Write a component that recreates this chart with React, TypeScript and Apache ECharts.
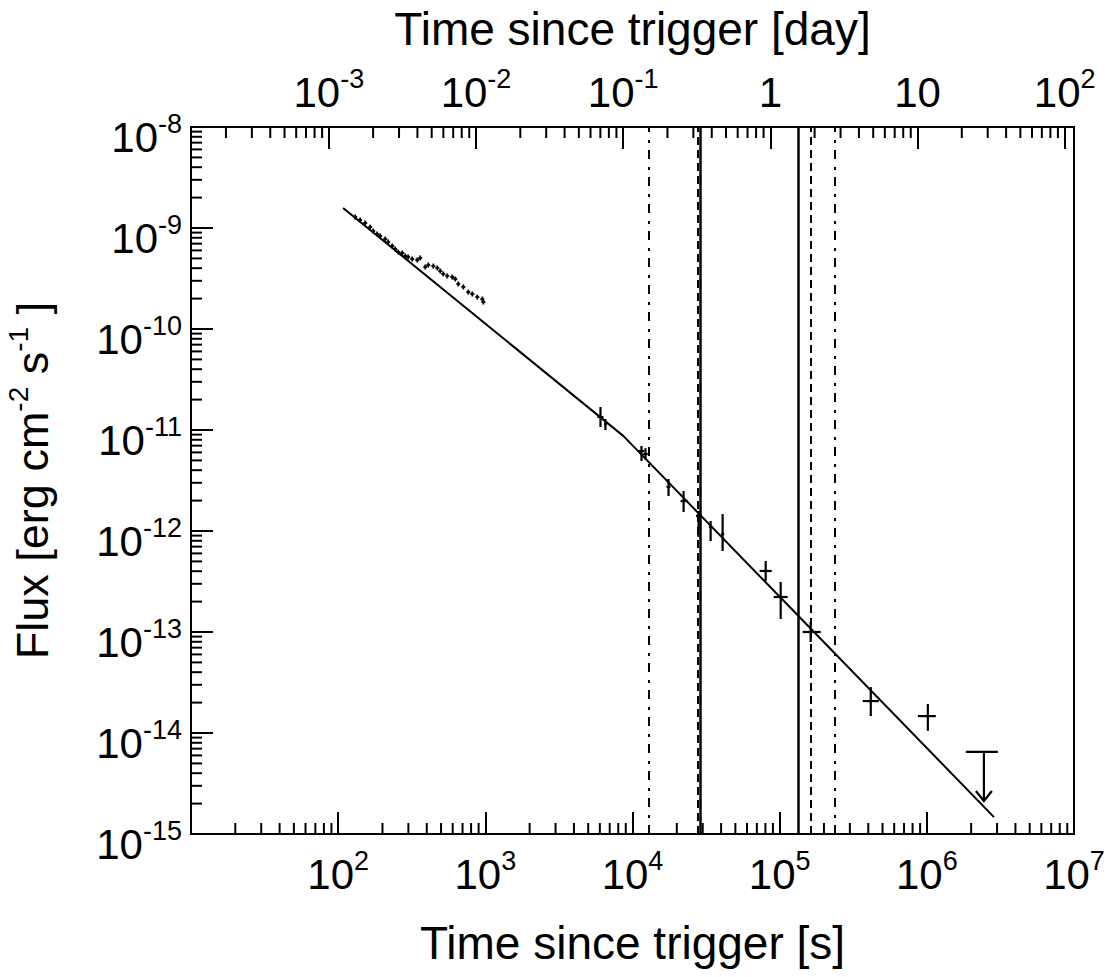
import React, { useEffect, useRef } from 'react';
import * as echarts from 'echarts';

const FONT = '"Liberation Sans", Arial, Helvetica, sans-serif';

// axis ranges
const T_MIN = 10;
const T_MAX = 1e7;
const F_MIN = 1e-15;
const F_MAX = 1e-8;
const SEC_PER_DAY = 86400;

// best-fit broken power law (time [s], flux)
const fitT = [108, 8690, 2.86e6];
const fitF = [1.58e-9, 8.7e-12, 1.47e-15];

// early dense light curve
const earlyT = [130.5, 141, 152.7, 165, 173, 184, 193, 208.8, 218.8, 233, 244, 256, 272.5, 285.6, 299, 318.7, 344.7, 361, 390.6, 409.6, 443, 471.6, 494, 517.8, 551, 596, 625, 655, 708.6, 766, 816, 882, 954, 969];
const earlyF = [1.285e-9, 1.2e-9, 1.12e-9, 1.02e-9, 9.34e-10, 8.72e-10, 8.33e-10, 7.78e-10, 7.27e-10, 6.64e-10, 6.19e-10, 5.78e-10, 5.65e-10, 5.28e-10, 5.16e-10, 4.93e-10, 4.82e-10, 5.05e-10, 4.11e-10, 4.3e-10, 4.2e-10, 4.02e-10, 3.75e-10, 3.51e-10, 3.35e-10, 3.27e-10, 3.13e-10, 2.79e-10, 2.61e-10, 2.32e-10, 2.22e-10, 2.07e-10, 1.98e-10, 1.85e-10];

// later points with error bars
const lateT = [6059, 6548, 11510, 12250, 17570, 22240, 28120, 33950, 40960, 80340, 101600, 162400, 416000, 1.016e6];
const lateF = [1.345e-11, 1.146e-11, 6.19e-12, 5.78e-12, 2.73e-12, 1.98e-12, 1.41e-12, 1.096e-12, 9.33e-13, 4.02e-13, 2.22e-13, 1.0e-13, 2.07e-14, 1.47e-14];
const lateFLo = [1.07e-11, 1.0e-11, 4.93e-12, 5.1e-12, 2.22e-12, 1.54e-12, 8.73e-13, 7.96e-13, 6.34e-13, 3.2e-13, 1.345e-13, 7.96e-14, 1.47e-14, 1.05e-14];
const lateFHi = [1.69e-11, 1.285e-11, 6.95e-12, 6.6e-12, 3.27e-12, 2.49e-12, 1.58e-12, 1.256e-12, 1.47e-12, 5.05e-13, 3.13e-13, 1.256e-13, 2.85e-14, 1.94e-14];
const lateTLo = [5781, 6400, 11000, 11800, 17000, 21220, 27000, 33000, 40000, 73090, 91030, 143300, 367000, 868500];
const lateTHi = [6350, 6700, 12000, 12700, 18100, 23670, 29300, 35000, 42000, 88300, 113300, 190100, 471300, 1.151e6];

// upper limit
const ulT = [2.442e6];
const ulF = [6.49e-15];
const ulTLo = [1.842e6];
const ulTHi = [3.041e6];
const ulTip = [2.12e-15];

// vertical marker lines (time [s])
const solidLines = [29010, 134700];
const dashedLines = [27690, 162500];
const dashDotLines = [12850, 236700];

// minor tick positions (2..9 x 10^n)
const minorBottom: number[] = [];
for (let e = 1; e < 7; e++) for (let m = 2; m <= 9; m++) minorBottom.push(m * Math.pow(10, e));
const minorLeft: number[] = [];
for (let e = -15; e < -8; e++) for (let m = 2; m <= 9; m++) minorLeft.push(m * Math.pow(10, e));
const minorTop: number[] = [];
for (let e = -4; e < 3; e++)
  for (let m = 2; m <= 9; m++) {
    const v = m * Math.pow(10, e);
    if (v > T_MIN / SEC_PER_DAY && v < T_MAX / SEC_PER_DAY) minorTop.push(v);
  }

const MAJOR_LEN = 22;
const MINOR_LEN = 11;
const BLACK = '#000';

const expOf = (v: number) => Math.round(Math.log10(v));

const labelRich = {
  b: { fontSize: 42, lineHeight: 54, fontFamily: FONT, color: BLACK },
  s: { fontSize: 27, lineHeight: 27, verticalAlign: 'top', fontFamily: FONT, color: BLACK },
};

export default function App() {
  const ref = useRef<HTMLDivElement>(null);
  useEffect(() => {
    if (!ref.current) return;
    const chart = echarts.init(ref.current, undefined, { renderer: 'svg' });
    const tickStyle = { stroke: BLACK, lineWidth: 2 };

    const option: any = {
      animation: false,
      backgroundColor: '#fff',
      grid: {
        left: 191,
        right: 39,
        top: 127,
        bottom: 143,
        show: true,
        borderColor: BLACK,
        borderWidth: 2,
        backgroundColor: 'transparent',
        containLabel: false,
        outerBoundsMode: 'none',
      },
      xAxis: [
        {
          type: 'log',
          logBase: 10,
          min: T_MIN,
          max: T_MAX,
          position: 'bottom',
          name: 'Time since trigger [s]',
          nameLocation: 'middle',
          nameGap: 86,
          nameTextStyle: { fontSize: 46, fontFamily: FONT, color: BLACK },
          axisLine: { show: true, lineStyle: { color: BLACK, width: 2 } },
          axisTick: { show: true, inside: true, length: MAJOR_LEN, lineStyle: { color: BLACK, width: 2 } },
          minorTick: { show: false },
          splitLine: { show: false },
          axisLabel: {
            showMinLabel: false,
            margin: 13,
            formatter: (v: number) => `{b|10}{s|${expOf(v)}}`,
            rich: labelRich,
          },
        },
        {
          type: 'log',
          logBase: 10,
          min: T_MIN / SEC_PER_DAY,
          max: T_MAX / SEC_PER_DAY,
          position: 'top',
          name: 'Time since trigger [day]',
          nameLocation: 'middle',
          nameGap: 75,
          nameTextStyle: { fontSize: 46, fontFamily: FONT, color: BLACK },
          axisLine: { show: true, lineStyle: { color: BLACK, width: 2 } },
          axisTick: { show: true, inside: true, length: MAJOR_LEN, lineStyle: { color: BLACK, width: 2 } },
          splitLine: { show: false },
          axisLabel: {
            showMinLabel: false,
            showMaxLabel: false,
            margin: 8,
            formatter: (v: number) => {
              const e = expOf(v);
              if (e === 0) return '{b|1}';
              if (e === 1) return '{b|10}';
              return `{b|10}{s|${e}}`;
            },
            rich: labelRich,
          },
        },
      ],
      yAxis: [
        {
          type: 'log',
          logBase: 10,
          min: F_MIN,
          max: F_MAX,
          position: 'left',
          name: '{n|Flux [erg cm}{s|-2}{n| s}{s|-1}{n| ]}',
          nameLocation: 'middle',
          nameRotate: 90,
          nameGap: 131,
          nameTextStyle: {
            fontSize: 45,
            fontFamily: FONT,
            color: BLACK,
            rich: {
              n: { fontSize: 45, lineHeight: 56, fontFamily: FONT, color: BLACK },
              s: { fontSize: 28, lineHeight: 30, verticalAlign: 'top', fontFamily: FONT, color: BLACK },
            },
          },
          axisLine: { show: true, lineStyle: { color: BLACK, width: 2 } },
          axisTick: { show: true, inside: true, length: MAJOR_LEN, lineStyle: { color: BLACK, width: 2 } },
          splitLine: { show: false },
          axisLabel: {
            margin: 9,
            verticalAlign: 'top',
            padding: [-17, 0, 0, 0],
            formatter: (v: number) => `{b|10}{s|${expOf(v)}}`,
            rich: labelRich,
          },
        },
      ],
      series: [
        {
          type: 'line',
          name: 'fit',
          data: fitT.map((t, i) => [t, fitF[i]]),
          showSymbol: false,
          symbol: 'none',
          lineStyle: { color: BLACK, width: 2 },
          z: 4,
          markLine: {
            silent: true,
            symbol: ['none', 'none'],
            label: { show: false },
            data: [
              ...solidLines.map((v) => ({ xAxis: v, lineStyle: { color: BLACK, width: 2.5, type: 'solid' } })),
              ...dashedLines.map((v) => ({ xAxis: v, lineStyle: { color: BLACK, width: 2, type: [8, 5] } })),
              ...dashDotLines.map((v) => ({ xAxis: v, lineStyle: { color: BLACK, width: 2, type: [9, 7, 3, 8] } })),
            ],
          },
        },
        {
          type: 'custom',
          name: 'early',
          data: earlyT.map((t, i) => [t, earlyF[i]]),
          z: 5,
          renderItem: (params: any, api: any) => {
            const p = api.coord([api.value(0), api.value(1)]);
            const st = { stroke: BLACK, lineWidth: 1.8 };
            return {
              type: 'group',
              children: [
                { type: 'line', shape: { x1: p[0] - 2, y1: p[1], x2: p[0] + 2, y2: p[1] }, style: st },
                { type: 'line', shape: { x1: p[0], y1: p[1] - 2.5, x2: p[0], y2: p[1] + 2.5 }, style: st },
              ],
            };
          },
        },
        {
          type: 'custom',
          name: 'late',
          data: lateT.map((t, i) => [t, lateF[i], lateFLo[i], lateFHi[i], lateTLo[i], lateTHi[i]]),
          encode: { x: [0, 4, 5], y: [1, 2, 3] },
          z: 6,
          renderItem: (params: any, api: any) => {
            const lo = api.coord([api.value(0), api.value(2)]);
            const hi = api.coord([api.value(0), api.value(3)]);
            const l = api.coord([api.value(4), api.value(1)]);
            const r = api.coord([api.value(5), api.value(1)]);
            return {
              type: 'group',
              children: [
                { type: 'line', shape: { x1: lo[0], y1: lo[1], x2: hi[0], y2: hi[1] }, style: { stroke: BLACK, lineWidth: 2.2 } },
                { type: 'line', shape: { x1: l[0], y1: l[1], x2: r[0], y2: r[1] }, style: { stroke: BLACK, lineWidth: 2.2 } },
              ],
            };
          },
        },
        {
          type: 'custom',
          name: 'upper limit',
          data: ulT.map((t, i) => [t, ulF[i], ulTLo[i], ulTHi[i], ulTip[i]]),
          encode: { x: [0, 2, 3], y: [1, 4] },
          z: 6,
          renderItem: (params: any, api: any) => {
            const c = api.coord([api.value(0), api.value(1)]);
            const l = api.coord([api.value(2), api.value(1)]);
            const r = api.coord([api.value(3), api.value(1)]);
            const tip = api.coord([api.value(0), api.value(4)]);
            const st = { stroke: BLACK, lineWidth: 2.2 };
            return {
              type: 'group',
              children: [
                { type: 'line', shape: { x1: l[0], y1: l[1], x2: r[0], y2: r[1] }, style: st },
                { type: 'line', shape: { x1: c[0], y1: c[1], x2: tip[0], y2: tip[1] }, style: st },
                { type: 'polyline', shape: { points: [[tip[0] - 8, tip[1] - 10], [tip[0], tip[1]], [tip[0] + 8, tip[1] - 10]] }, style: { ...st, fill: 'none' } },
              ],
            };
          },
        },
        {
          type: 'custom',
          name: 'minor ticks bottom',
          silent: true,
          xAxisIndex: 0,
          yAxisIndex: 0,
          data: minorBottom.map((v) => [v, F_MIN]),
          renderItem: (params: any, api: any) => {
            const p = api.coord([api.value(0), api.value(1)]);
            return { type: 'line', shape: { x1: p[0], y1: p[1], x2: p[0], y2: p[1] - MINOR_LEN }, style: tickStyle };
          },
        },
        {
          type: 'custom',
          name: 'minor ticks left',
          silent: true,
          xAxisIndex: 0,
          yAxisIndex: 0,
          data: minorLeft.map((v) => [T_MIN, v]),
          renderItem: (params: any, api: any) => {
            const p = api.coord([api.value(0), api.value(1)]);
            return { type: 'line', shape: { x1: p[0], y1: p[1], x2: p[0] + MINOR_LEN, y2: p[1] }, style: tickStyle };
          },
        },
        {
          type: 'custom',
          name: 'minor ticks top',
          silent: true,
          xAxisIndex: 1,
          yAxisIndex: 0,
          data: minorTop.map((v) => [v, F_MAX]),
          renderItem: (params: any, api: any) => {
            const p = api.coord([api.value(0), api.value(1)]);
            return { type: 'line', shape: { x1: p[0], y1: p[1], x2: p[0], y2: p[1] + MINOR_LEN }, style: tickStyle };
          },
        },
      ],
    };
    chart.setOption(option);
    return () => chart.dispose();
  }, []);
  return (
    <div
      ref={ref}
      style={{ position: 'absolute', left: 0, top: 0, width: 1113, height: 977, background: '#fff' }}
    />
  );
}
